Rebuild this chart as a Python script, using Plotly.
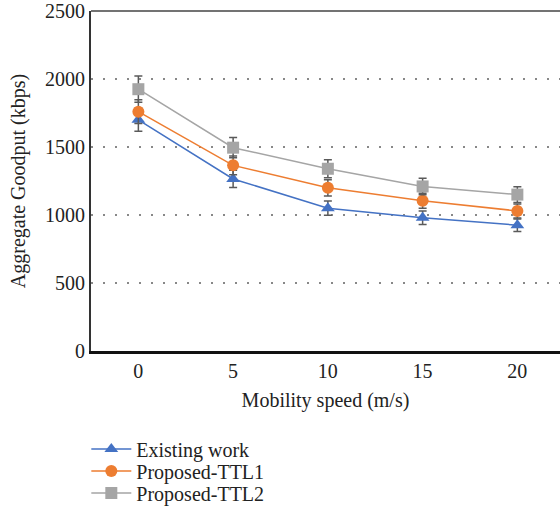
import plotly.graph_objects as go

speeds = ["0", "5", "10", "15", "20"]
existing = [1700, 1265, 1050, 980, 925]
ttl1 = [1760, 1365, 1200, 1105, 1030]
ttl2 = [1925, 1495, 1340, 1210, 1150]
series = [
    ("Existing work", existing, "#4472C4", "triangle-up"),
    ("Proposed-TTL1", ttl1, "#ED7D31", "circle"),
    ("Proposed-TTL2", ttl2, "#A5A5A5", "square"),
]
legend_ids = ["legend", "legend2", "legend3"]
legend_y = [-0.288, -0.353, -0.418]

FONT = "Liberation Serif"
FS = 20
fig = go.Figure()
for (name, vals, color, sym), lid in zip(series, legend_ids):
    fig.add_trace(go.Scatter(
        x=speeds, y=vals, name=name, mode="lines+markers", legend=lid,
        line=dict(color=color, width=1.5),
        marker=dict(symbol=sym, size=12, color=color),
        error_y=dict(type="percent", value=5, color="#5a5a5a", thickness=1.5, width=4),
    ))

leg_common = dict(x=-0.01, xanchor="left", yanchor="middle",
                  font=dict(family=FONT, size=FS, color="#222"),
                  itemwidth=40, bgcolor="rgba(0,0,0,0)")
fig.update_layout(
    width=560, height=515,
    margin=dict(l=91, r=0, t=11, b=164, autoexpand=False),
    plot_bgcolor="white", paper_bgcolor="white",
    font=dict(family=FONT, size=FS, color="#222"),
    showlegend=True,
    legend=dict(y=legend_y[0], **leg_common),
    legend2=dict(y=legend_y[1], **leg_common),
    legend3=dict(y=legend_y[2], **leg_common),
    xaxis=dict(type="category", range=[-0.5, 4.45], showgrid=False,
               showline=True, linecolor="#111", linewidth=3,
               ticks="", tickfont=dict(size=FS), automargin=False,
               title=dict(text="Mobility speed (m/s)", font=dict(size=FS), standoff=12)),
    yaxis=dict(range=[0, 2500], dtick=500, showgrid=True,
               gridcolor="#888", griddash="2px,10px", gridwidth=1.5,
               showline=True, linecolor="#333", linewidth=2,
               ticks="", tickfont=dict(size=FS), zeroline=False, automargin=False,
               title=dict(text="Aggregate Goodput (kbps)", font=dict(size=FS), standoff=14)),
)
fig.add_shape(type="line", xref="x domain", yref="y domain", x0=0, x1=1, y0=1, y1=1,
              line=dict(color="#444", width=1.5))
fig.write_html("out.html")
